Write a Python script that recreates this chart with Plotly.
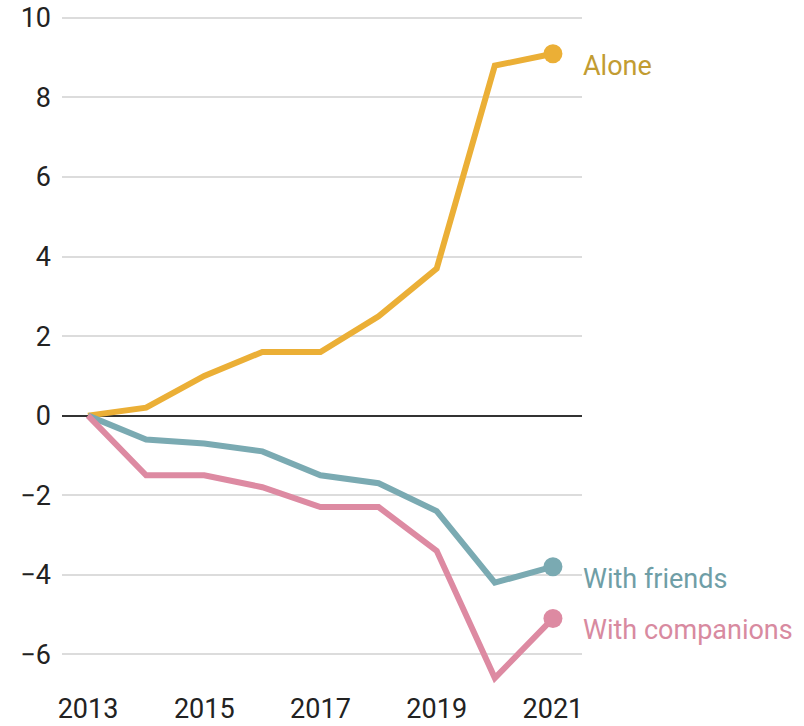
import plotly.graph_objects as go

years = [2013, 2014, 2015, 2016, 2017, 2018, 2019, 2020, 2021]
alone = [0, 0.2, 1.0, 1.6, 1.6, 2.5, 3.7, 8.8, 9.1]
friends = [0, -0.6, -0.7, -0.9, -1.5, -1.7, -2.4, -4.2, -3.8]
companions = [0, -1.5, -1.5, -1.8, -2.3, -2.3, -3.4, -6.6, -5.1]

series = [
    ("Alone", alone, "#ebaf36", "#c29c32"),
    ("With friends", friends, "#7aaab2", "#6f9ea6"),
    ("With companions", companions, "#dd8aa2", "#d88aa0"),
]

font = "Roboto, sans-serif"
fig = go.Figure()
for name, vals, col, tcol in series:
    fig.add_trace(go.Scatter(x=years, y=vals, mode="lines", line=dict(color=col, width=6),
                             showlegend=False, hoverinfo="skip"))
    fig.add_trace(go.Scatter(x=[years[-1]], y=[vals[-1]], mode="markers",
                             marker=dict(color=col, size=19), showlegend=False, hoverinfo="skip"))
    fig.add_annotation(x=years[-1], y=vals[-1], text=name, showarrow=False, xanchor="left",
                       yanchor="middle", xshift=28, yshift=-12,
                       font=dict(family=font, size=27, color=tcol))

fig.update_layout(
    width=804, height=726, margin=dict(l=62, r=222, t=10, b=36),
    plot_bgcolor="white", paper_bgcolor="white",
    font=dict(family=font, size=27, color="#222"),
    xaxis=dict(range=[2012.553, 2021.5], tickvals=[2013, 2015, 2017, 2019, 2021],
               showgrid=False, zeroline=False, showline=False, ticks="", automargin=False,
               tickfont=dict(size=27)),
    yaxis=dict(range=[-6.9, 10.2], tickvals=[-6, -4, -2, 0, 2, 4, 6, 8, 10],
               ticktext=["\u22126", "\u22124", "\u22122", "0", "2", "4", "6", "8", "10"],
               showgrid=True, gridcolor="#dcdcdc", gridwidth=1.5,
               zeroline=True, zerolinecolor="#333", zerolinewidth=2, automargin=False,
               showline=False, ticks="", ticklabelstandoff=10, tickfont=dict(size=27)),
)
fig.write_html("out.html", config={"displayModeBar": False},
               post_script="document.body.style.margin='0';document.body.style.overflow='hidden';")
